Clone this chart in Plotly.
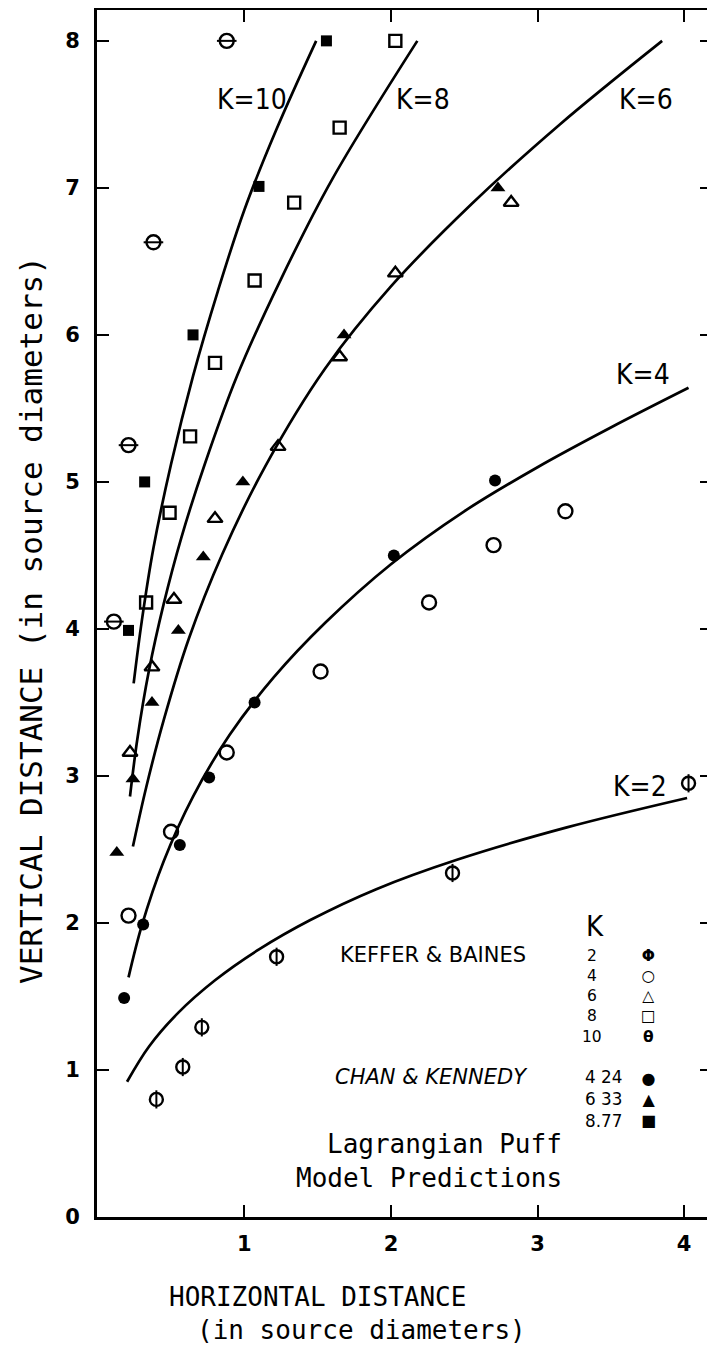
import plotly.graph_objects as go

# ---------------- data ----------------
# Keffer & Baines experimental points
kb2_x = [0.40, 0.58, 0.71, 1.22, 2.42, 4.03]
kb2_y = [0.80, 1.02, 1.29, 1.77, 2.34, 2.95]

kb4_x = [0.21, 0.50, 0.88, 1.52, 2.26, 2.70, 3.19]
kb4_y = [2.05, 2.62, 3.16, 3.71, 4.18, 4.57, 4.80]

kb6_x = [0.22, 0.37, 0.52, 0.80, 1.23, 1.65, 2.03, 2.82]
kb6_y = [3.16, 3.74, 4.20, 4.75, 5.24, 5.85, 6.42, 6.90]

kb8_x = [0.33, 0.49, 0.63, 0.80, 1.07, 1.34, 1.65, 2.03]
kb8_y = [4.18, 4.79, 5.31, 5.81, 6.37, 6.90, 7.41, 8.00]

kb10_x = [0.11, 0.21, 0.38, 0.88]
kb10_y = [4.05, 5.25, 6.63, 8.00]

# Chan & Kennedy experimental points
ck424_x = [0.18, 0.31, 0.56, 0.76, 1.07, 2.02, 2.71]
ck424_y = [1.49, 1.99, 2.53, 2.99, 3.50, 4.50, 5.01]

ck633_x = [0.13, 0.24, 0.37, 0.55, 0.72, 0.99, 1.68, 2.73]
ck633_y = [2.48, 2.98, 3.50, 3.99, 4.49, 5.00, 6.00, 7.00]

ck877_x = [0.21, 0.32, 0.65, 1.10, 1.56]
ck877_y = [3.99, 5.00, 6.00, 7.01, 8.00]

# Lagrangian puff model predictions (curves)
m2_x = [0.20, 0.35, 0.55, 0.80, 1.10, 1.45, 1.90, 2.45, 3.20, 4.02]
m2_y = [0.92, 1.16, 1.39, 1.61, 1.82, 2.02, 2.23, 2.43, 2.65, 2.85]

m4_x = [0.21, 0.30, 0.45, 0.65, 0.90, 1.20, 1.55, 2.00, 2.50, 3.00, 3.50, 4.03]
m4_y = [1.63, 1.98, 2.42, 2.86, 3.28, 3.67, 4.04, 4.44, 4.80, 5.10, 5.37, 5.64]

m6_x = [0.24, 0.33, 0.45, 0.62, 0.85, 1.15, 1.55, 2.00, 2.55, 3.15, 3.85]
m6_y = [2.52, 2.92, 3.38, 3.93, 4.51, 5.12, 5.77, 6.33, 6.89, 7.43, 8.00]

m8_x = [0.22, 0.27, 0.35, 0.45, 0.57, 0.73, 0.95, 1.25, 1.60, 2.18]
m8_y = [2.86, 3.25, 3.72, 4.17, 4.62, 5.12, 5.72, 6.38, 7.06, 8.00]

m10_x = [0.245, 0.30, 0.38, 0.50, 0.65, 0.82, 1.00, 1.22, 1.49]
m10_y = [3.63, 4.05, 4.55, 5.12, 5.72, 6.30, 6.85, 7.40, 8.00]

x_ticks = [1, 2, 3, 4]
x_tick_labels = ["1", "2", "3", "4"]
y_ticks = [0, 1, 2, 3, 4, 5, 6, 7, 8]
y_tick_labels = ["0", "1", "2", "3", "4", "5", "6", "7", "8"]

curve_labels = ["K=10", "K=8", "K=6", "K=4", "K=2"]
legend_kb_k = ["2", "4", "6", "8", "10"]
legend_ck_k = ["4 24", "6 33", "8.77"]

# ---------------- figure ----------------
BLACK = "black"
fig = go.Figure()


def add_curve(x, y):
    fig.add_trace(go.Scatter(x=x, y=y, mode="lines",
                             line=dict(color=BLACK, width=2.7, shape="spline", smoothing=1.0),
                             showlegend=False, hoverinfo="skip"))


def add_markers(x, y, symbol, size, lw=2.4):
    fig.add_trace(go.Scatter(x=x, y=y, mode="markers",
                             marker=dict(symbol=symbol, size=size, color=BLACK,
                                         line=dict(color=BLACK, width=lw)),
                             showlegend=False, hoverinfo="skip"))


for cx, cy in [(m2_x, m2_y), (m4_x, m4_y), (m6_x, m6_y), (m8_x, m8_y), (m10_x, m10_y)]:
    add_curve(cx, cy)

# Keffer & Baines (open symbols)
add_markers(kb2_x, kb2_y, "circle-open", 13)
add_markers(kb2_x, kb2_y, "line-ns-open", 13, 2)
add_markers(kb4_x, kb4_y, "circle-open", 14)
add_markers(kb6_x, kb6_y, "triangle-up-open", 13)
add_markers(kb8_x, kb8_y, "square-open", 12)
add_markers(kb10_x, kb10_y, "circle-open", 14)
add_markers(kb10_x, kb10_y, "line-ew-open", 14, 2)

# Chan & Kennedy (filled symbols)
add_markers(ck424_x, ck424_y, "circle", 12, 0)
add_markers(ck633_x, ck633_y, "triangle-up", 13, 0)
add_markers(ck877_x, ck877_y, "square", 11, 0)

tick_font = dict(family="DejaVu Sans", size=21, color=BLACK, weight="bold")

axis_common = dict(showline=True, linecolor=BLACK, linewidth=2.8, mirror="ticks",
                   ticks="inside", ticklen=12, tickwidth=2.2, tickcolor=BLACK,
                   showgrid=False, zeroline=False, tickfont=tick_font)

# the page body adds an 8px offset; the figure is sized to fill the 715x1351 window
fig.update_layout(
    width=707, height=1343,
    margin=dict(l=89, r=3, t=2, b=134, autoexpand=False),
    paper_bgcolor="white", plot_bgcolor="white",
    xaxis=dict(range=[-0.005, 4.19], tickvals=x_ticks, ticktext=x_tick_labels,
               ticklabelstandoff=6, **axis_common),
    yaxis=dict(range=[0, 8.21], tickvals=y_ticks, ticktext=y_tick_labels,
               ticklabelstandoff=10, **axis_common),
)

ann = []
kfont = dict(family="Liberation Sans Narrow, DejaVu Sans Condensed, Roboto Condensed, sans-serif",
             size=28, color=BLACK)
for txt, (lx, ly) in zip(curve_labels, [(1.05, 7.60), (2.22, 7.60), (3.74, 7.60), (3.72, 5.73), (3.70, 2.93)]):
    ann.append(dict(x=lx, y=ly, xref="x", yref="y", text=txt, showarrow=False,
                    font=kfont, xanchor="center", yanchor="middle"))


def px(xp):
    return (xp - 97) / 615.0


def py(yp):
    return (1217 - yp) / 1207.0


mono = "DejaVu Sans Mono, monospace"
# axis titles
ann.append(dict(x=px(31), y=py(620), xref="paper", yref="paper", textangle=-90,
                text="VERTICAL DISTANCE (in source diameters)", showarrow=False,
                font=dict(family=mono, size=31, color=BLACK), xanchor="center", yanchor="middle",
                borderpad=0))
ann.append(dict(x=px(167), y=py(1297), xref="paper", yref="paper",
                text="HORIZONTAL DISTANCE", showarrow=False,
                font=dict(family=mono, size=26, color=BLACK), xanchor="left", yanchor="middle"))
ann.append(dict(x=px(195), y=py(1330), xref="paper", yref="paper",
                text="(in source diameters)", showarrow=False,
                font=dict(family=mono, size=26, color=BLACK), xanchor="left", yanchor="middle"))

# model label
ann.append(dict(x=px(564), y=py(1144), xref="paper", yref="paper", text="Lagrangian Puff",
                showarrow=False, font=dict(family=mono, size=26, color=BLACK),
                xanchor="right", yanchor="middle"))
ann.append(dict(x=px(564), y=py(1178), xref="paper", yref="paper", text="Model Predictions",
                showarrow=False, font=dict(family=mono, size=26, color=BLACK),
                xanchor="right", yanchor="middle"))

# legend block
lfont = dict(family="DejaVu Sans", size=21, color=BLACK)
ann.append(dict(x=px(595), y=py(926), xref="paper", yref="paper", text="K", showarrow=False,
                font=dict(family=kfont["family"], size=29, color=BLACK), xanchor="center", yanchor="middle"))
ann.append(dict(x=px(338), y=py(955), xref="paper", yref="paper", text="KEFFER &amp; BAINES",
                showarrow=False, font=lfont, xanchor="left", yanchor="middle"))
ann.append(dict(x=px(333), y=py(1077), xref="paper", yref="paper", text="<i>CHAN &amp; KENNEDY</i>",
                showarrow=False, font=lfont, xanchor="left", yanchor="middle"))

kb_syms = ["Φ", "○", "△", "□", "θ"]
ann.append(dict(x=px(592), y=py(996), xref="paper", yref="paper", text="<br>".join(legend_kb_k),
                showarrow=False, align="center",
                font=dict(family="DejaVu Sans", size=15.5, color=BLACK), xanchor="center", yanchor="middle"))
ann.append(dict(x=px(648), y=py(996), xref="paper", yref="paper",
                text="<br>".join("<b>" + s + "</b>" for s in kb_syms),
                showarrow=False, align="center",
                font=dict(family="DejaVu Sans", size=15.5, color=BLACK), xanchor="center", yanchor="middle"))

ck_syms = ["●", "▲", "■"]
ann.append(dict(x=px(603), y=py(1099), xref="paper", yref="paper", text="<br>".join(legend_ck_k),
                showarrow=False, align="center",
                font=dict(family="DejaVu Sans", size=16.8, color=BLACK), xanchor="center", yanchor="middle"))
ann.append(dict(x=px(648), y=py(1099), xref="paper", yref="paper", text="<br>".join(ck_syms),
                showarrow=False, align="center",
                font=dict(family="DejaVu Sans", size=16, color=BLACK), xanchor="center", yanchor="middle"))

fig.update_layout(annotations=ann)

fig.write_html("out.html")
